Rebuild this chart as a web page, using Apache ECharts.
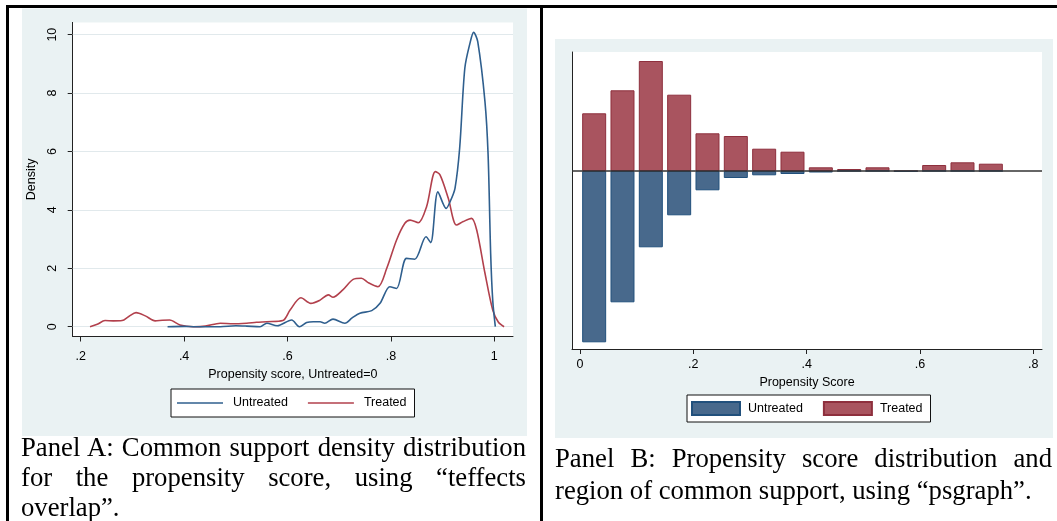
<!DOCTYPE html>
<html><head><meta charset="utf-8">
<script src="https://cdn.jsdelivr.net/npm/echarts@6/dist/echarts.min.js"></script>
<style>
html,body{margin:0;padding:0;background:#fff;}
#wrap{position:relative;width:1057px;height:521px;overflow:hidden;background:#fff;}
#chartA{position:absolute;left:0;top:0;width:541px;height:521px;}
#chartB{position:absolute;left:541px;top:0;width:516px;height:521px;}
.bd{position:absolute;background:#000;z-index:5;}
.cap{position:absolute;z-index:6;font-family:"Liberation Serif","Times New Roman",serif;font-size:26.7px;line-height:30px;color:#000;}
.cap .j{text-align:justify;text-align-last:justify;}
.cap .l{text-align:left;}
</style></head>
<body>
<div id="wrap">
  <div id="chartA"></div>
  <div id="chartB"></div>
  <div class="bd" style="left:6px;top:5px;width:1051px;height:3px;"></div>
  <div class="bd" style="left:6px;top:5px;width:3px;height:516px;"></div>
  <div class="bd" style="left:540px;top:5px;width:3px;height:516px;"></div>
  <div class="cap" style="left:21px;top:432px;width:505px;">
    <div class="j">Panel A: Common support density distribution</div>
    <div class="j">for the propensity score, using “teffects</div>
    <div class="l">overlap”.</div>
  </div>
  <div class="cap" style="left:555px;top:442px;width:497px;line-height:32px;">
    <div class="j">Panel B: Propensity score distribution and</div>
    <div class="l">region of common support, using “psgraph”.</div>
  </div>
</div>
<script>
// ---------- Panel A data (kernel density of propensity score) ----------
const xTicksA = [0.2, 0.4, 0.6, 0.8, 1.0];
const xTickLabelsA = ['.2', '.4', '.6', '.8', '1'];
const yTicksA = [0, 2, 4, 6, 8, 10];

const untreatedX = [0.368,0.400,0.418,0.445,0.470,0.500,0.521,0.547,0.560,0.580,0.608,0.623,0.637,0.650,0.663,0.672,0.688,0.711,0.725,0.740,0.763,0.779,0.798,0.811,0.830,0.846,0.868,0.877,0.891,0.907,0.915,0.924,0.933,0.943,0.953,0.960,0.968,0.982,0.988,0.993,0.997,1.002];
const untreatedY = [0.00,0.01,0.00,0.00,0.00,0.03,0.02,0.00,0.12,0.03,0.23,0.00,0.14,0.17,0.17,0.12,0.26,0.12,0.30,0.46,0.55,0.80,1.37,1.31,2.34,2.31,3.08,2.88,4.62,4.05,4.30,4.74,6.11,8.85,9.71,10.08,9.76,7.70,5.90,2.50,0.90,0.00];

const treatedX = [0.218,0.232,0.247,0.263,0.280,0.293,0.307,0.325,0.344,0.358,0.372,0.392,0.418,0.441,0.470,0.495,0.521,0.540,0.560,0.591,0.605,0.626,0.645,0.663,0.679,0.688,0.707,0.727,0.743,0.756,0.775,0.792,0.811,0.827,0.837,0.853,0.869,0.886,0.895,0.911,0.927,0.940,0.956,0.966,0.982,0.997,1.008,1.019];
const treatedY = [0.00,0.08,0.21,0.20,0.21,0.35,0.48,0.37,0.20,0.22,0.23,0.06,0.00,0.02,0.12,0.10,0.12,0.15,0.17,0.21,0.57,0.99,0.80,0.91,1.09,1.01,1.26,1.62,1.66,1.51,1.37,2.00,2.97,3.54,3.65,3.56,4.11,5.31,5.20,4.40,3.48,3.60,3.71,3.31,1.83,0.57,0.15,0.00];

// ---------- Panel B data (psgraph histogram, mirrored) ----------
const binCenters = [0.025,0.075,0.125,0.175,0.225,0.275,0.325,0.375,0.425,0.475,0.525,0.575,0.625,0.675,0.725];
const treatedFreq = [57.7,80.7,110,76.3,37.7,35,22.3,19.3,3.7,2,3.7,0,6,8.7,7.3];
const untreatedFreq = [171.3,131.3,76.3,44.3,19.3,7,4.3,3,1.5,0,0,0.6,0,0,0];
const xTicksB = [0, 0.2, 0.4, 0.6, 0.8];
const xTickLabelsB = ['0', '.2', '.4', '.6', '.8'];

const BLUE = '#2f5f8e';
const RED = '#b2404c';
const BG = '#eaf2f3';
const FONT = '"Liberation Sans", Arial, sans-serif';
const zip = (xs, ys) => xs.map((x, i) => [x, ys[i]]);
const lab = (ticks, labels) => v => { const i = ticks.findIndex(t => Math.abs(t - v) < 1e-9); return i >= 0 ? labels[i] : ''; };

const chartA = echarts.init(document.getElementById('chartA'));
chartA.setOption({
  animation: false,
  textStyle: { fontFamily: FONT },
  graphic: [{ type: 'rect', z: -100, shape: { x: 22, y: 8.5, width: 505, height: 427.5 }, style: { fill: BG } }],
  grid: { left: 72.7, top: 22.4, width: 440.3, height: 314.1, show: true, backgroundColor: '#fff', borderWidth: 0 },
  xAxis: {
    type: 'value', min: 0.1845, max: 1.0362,
    axisLine: { show: true, onZero: false, lineStyle: { color: '#222', width: 1 } },
    axisTick: { show: true, customValues: xTicksA, length: 5, lineStyle: { color: '#222' } },
    axisLabel: { customValues: xTicksA, formatter: lab(xTicksA, xTickLabelsA), margin: 14, color: '#000', fontSize: 12.5, fontFamily: FONT },
    splitLine: { show: false },
    name: 'Propensity score, Untreated=0', nameLocation: 'middle', nameGap: 26,
    nameTextStyle: { color: '#000', fontSize: 12.5, fontFamily: FONT }
  },
  yAxis: {
    type: 'value', min: -0.336, max: 10.42,
    axisLine: { show: true, onZero: false, lineStyle: { color: '#222', width: 1 } },
    axisTick: { show: true, customValues: yTicksA, length: 5, lineStyle: { color: '#222' } },
    axisLabel: { customValues: yTicksA, rotate: 90, margin: 14, color: '#000', fontSize: 12.5, fontFamily: FONT },
    splitLine: { show: false },
    name: 'Density', nameLocation: 'middle', nameGap: 23, nameRotate: 90,
    nameTextStyle: { color: '#000', fontSize: 12.5, fontFamily: FONT }
  },
  legend: {
    left: 171, top: 389, orient: 'horizontal',
    data: ['Untreated', 'Treated'], icon: 'rect',
    backgroundColor: '#fff', borderColor: '#111', borderWidth: 1,
    padding: [7, 8, 7, 6], itemWidth: 46, itemHeight: 1.6, itemGap: 20,
    textStyle: { color: '#000', fontSize: 12.5, fontFamily: FONT, padding: [0, 0, 0, 5], lineHeight: 14 }
  },
  series: [
    { name: 'grid', type: 'line', data: [], silent: true, z: 1,
      markLine: { silent: true, z: 1, symbol: ['none', 'none'], label: { show: false },
        lineStyle: { color: '#e1e9ec', width: 1, type: 'solid' },
        data: yTicksA.map(v => ({ yAxis: v })) } },
    { name: 'Untreated', type: 'line', data: zip(untreatedX, untreatedY), smooth: 0.3, symbol: 'none',
      lineStyle: { color: BLUE, width: 1.6 }, itemStyle: { color: BLUE }, z: 3 },
    { name: 'Treated', type: 'line', data: zip(treatedX, treatedY), smooth: 0.3, symbol: 'none',
      lineStyle: { color: RED, width: 1.6 }, itemStyle: { color: RED }, z: 2 }
  ]
});

const chartB = echarts.init(document.getElementById('chartB'));
chartB.setOption({
  animation: false,
  textStyle: { fontFamily: FONT },
  graphic: [{ type: 'rect', z: -100, shape: { x: 14, y: 39, width: 498, height: 399 }, style: { fill: BG } }],
  grid: { left: 31, top: 52, width: 470, height: 297, show: true, backgroundColor: '#fff', borderWidth: 0 },
  xAxis: {
    type: 'value', min: -0.0141, max: 0.8153,
    axisLine: { show: true, onZero: false, lineStyle: { color: '#222', width: 1 } },
    axisTick: { show: true, customValues: xTicksB, length: 5, lineStyle: { color: '#222' } },
    axisLabel: { customValues: xTicksB, formatter: lab(xTicksB, xTickLabelsB), margin: 9, color: '#000', fontSize: 12.5, fontFamily: FONT },
    splitLine: { show: false },
    name: 'Propensity Score', nameLocation: 'middle', nameGap: 23,
    nameTextStyle: { color: '#000', fontSize: 12.5, fontFamily: FONT }
  },
  yAxis: {
    type: 'value', min: -178, max: 119,
    axisLine: { show: true, onZero: false, lineStyle: { color: '#222', width: 1 } },
    axisTick: { show: false }, axisLabel: { show: false }, splitLine: { show: false }
  },
  legend: {
    left: 146, top: 395, orient: 'horizontal',
    data: ['Untreated', 'Treated'], icon: 'rect',
    backgroundColor: '#fff', borderColor: '#111', borderWidth: 1,
    padding: [6, 8, 6, 4], itemWidth: 48, itemHeight: 13, itemGap: 20,
    textStyle: { color: '#000', fontSize: 12.5, fontFamily: FONT, padding: [0, 0, 0, 3] }
  },
  series: [
    { name: 'Treated', type: 'bar', barWidth: 24, data: zip(binCenters, treatedFreq),
      itemStyle: { color: '#a9545f', borderColor: '#8e2f3d', borderWidth: 1 },
      markLine: { silent: true, symbol: ['none', 'none'], label: { show: false },
        lineStyle: { color: '#333', width: 1.5, type: 'solid' }, data: [{ yAxis: 0 }] } },
    { name: 'Untreated', type: 'bar', barWidth: 24, barGap: '-100%', data: zip(binCenters, untreatedFreq.map(v => -v)),
      itemStyle: { color: '#48698c', borderColor: '#21507c', borderWidth: 1 } }
  ]
});
</script>
</body></html>
